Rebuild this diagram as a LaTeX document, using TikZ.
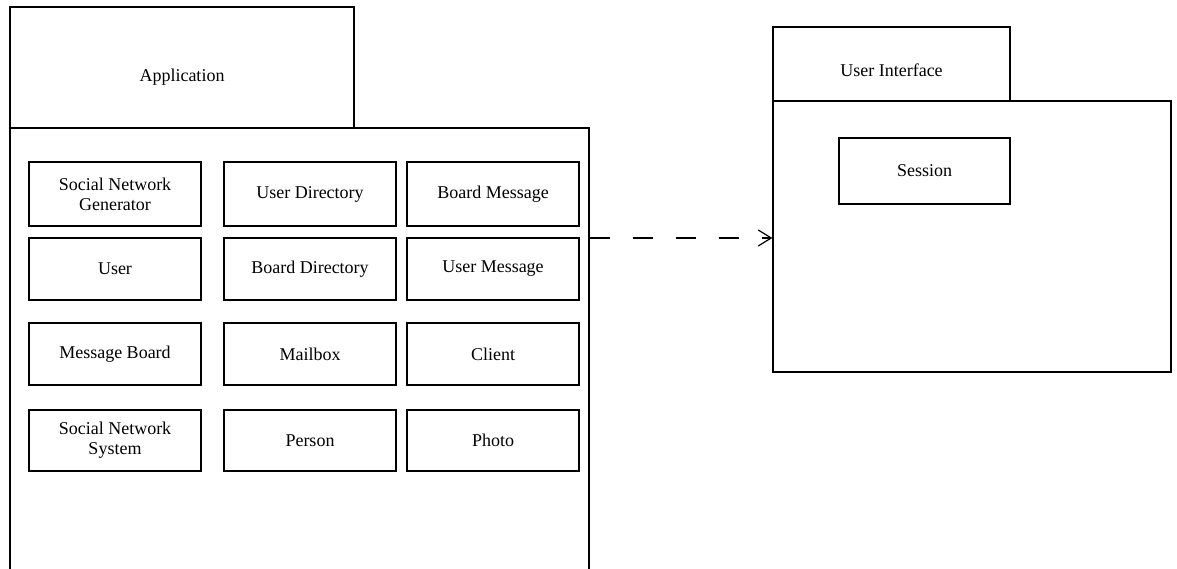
\documentclass[tikz,border=0pt]{standalone}
\usepackage{fontspec}
\setmainfont{Liberation Serif}
\usetikzlibrary{arrows.meta}
\tikzset{
  box/.style={draw, line width=1.3pt, inner sep=0pt, align=center, minimum width=172pt,
    font=\fontsize{18}{20}\selectfont},
  pkg/.style={draw, line width=1.3pt, inner sep=0pt},
  lbl/.style={font=\fontsize{18}{20}\selectfont, inner sep=0pt},
  dep/.style={line width=1.3pt, dash pattern=on 20pt off 23pt,
    -{Straight Barb[length=13pt,width=16pt,line width=1.2pt]}}
}
\begin{document}
\begin{tikzpicture}[x=1pt,y=-1pt]
\useasboundingbox (0,0) rectangle (1177,569);
\clip (0,0) rectangle (1177,569);
\fill[white] (0,0) rectangle (1177,569);
% Application package
\node[pkg, minimum width=344pt, minimum height=121pt] (apptab) at (182,67.5) {};
\node[lbl] (applbl) at (182,77) {Application};
\node[pkg, minimum width=579pt, minimum height=492pt] (appbody) at (299.5,374) {};
% inner classes
\node[box, minimum height=64pt] (sng) at (115,194) {Social Network\\Generator};
\node[box, minimum height=64pt] (udir) at (310,194) {User Directory};
\node[box, minimum height=64pt] (bmsg) at (493,194) {Board Message};
\node[box, minimum height=62pt] (user) at (115,269) {User};
\node[box, minimum height=62pt] (bdir) at (310,269) {Board Directory};
\node[box, minimum height=62pt] (umsg) at (493,269) {User Message};
\node[box, minimum height=62pt] (mb) at (115,354) {Message Board};
\node[box, minimum height=62pt] (mbox) at (310,354) {Mailbox};
\node[box, minimum height=62pt] (client) at (493,354) {Client};
\node[box, minimum height=61pt] (sns) at (115,440.5) {Social Network\\System};
\node[box, minimum height=61pt] (person) at (310,440.5) {Person};
\node[box, minimum height=61pt] (photo) at (493,440.5) {Photo};
% User Interface package
\node[pkg, minimum width=237pt, minimum height=74pt] (uitab) at (891.5,64) {};
\node[lbl] (uilbl) at (891.5,70) {User Interface};
\node[pkg, minimum width=398pt, minimum height=271pt] (uibody) at (972,236.5) {};
\node[box, minimum width=171pt, minimum height=66pt] (session) at (924.5,171) {Session};
% dependency
\coordinate (arrowy) at (0,238);
\draw[dep] (appbody.east |- arrowy) -- (uibody.west |- arrowy);
\end{tikzpicture}
\end{document}
